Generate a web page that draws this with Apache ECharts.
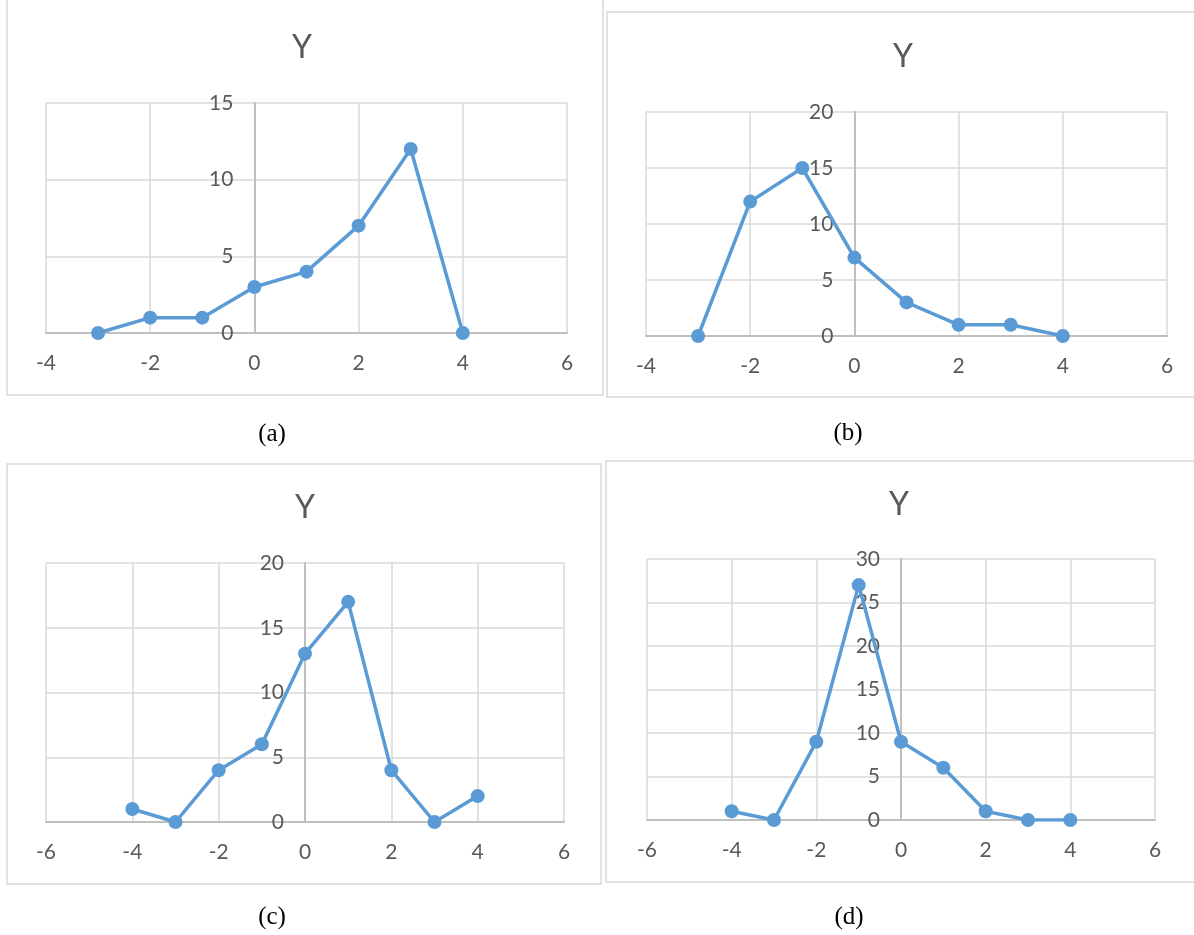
<!DOCTYPE html>
<html>
<head>
<meta charset="utf-8">
<script src="https://cdn.jsdelivr.net/npm/echarts@6/dist/echarts.min.js"></script>
<style>
html,body{margin:0;padding:0;background:#fff;}
#chart{width:1194px;height:935px;}
</style>
</head>
<body>
<div id="chart"></div>
<script>
// ---- data ----
const xA = [-3, -2, -1, 0, 1, 2, 3, 4];
const yA = [0, 1, 1, 3, 4, 7, 12, 0];
const xB = [-3, -2, -1, 0, 1, 2, 3, 4];
const yB = [0, 12, 15, 7, 3, 1, 1, 0];
const xC = [-4, -3, -2, -1, 0, 1, 2, 3, 4];
const yC = [1, 0, 4, 6, 13, 17, 4, 0, 2];
const xD = [-4, -3, -2, -1, 0, 1, 2, 3, 4];
const yD = [1, 0, 9, 27, 9, 6, 1, 0, 0];
const panelTitles = ['Y', 'Y', 'Y', 'Y'];
const captions = ['(a)', '(b)', '(c)', '(d)'];
const xRanges = [[-4, 6], [-4, 6], [-6, 6], [-6, 6]];
const yRanges = [[0, 15], [0, 20], [0, 20], [0, 30]];

// ---- layout ----
const grids = [
  {left: 46, top: 103, width: 521, height: 230},
  {left: 646, top: 112, width: 521, height: 224},
  {left: 46, top: 563, width: 518, height: 259},
  {left: 647, top: 559, width: 508, height: 261}
];
const boxes = [
  {x: 7, y: -5, w: 596, h: 400},
  {x: 607, y: 12, w: 600, h: 385},
  {x: 7, y: 464, w: 594, h: 420},
  {x: 606, y: 461, w: 600, h: 421}
];
const titlePos = [[302, 48], [903, 57], [305, 508], [899, 505]];
const capPos = [[272, 434], [848, 433], [272, 917], [849, 917]];

const seriesData = [
  xA.map((x, i) => [x, yA[i]]),
  xB.map((x, i) => [x, yB[i]]),
  xC.map((x, i) => [x, yC[i]]),
  xD.map((x, i) => [x, yD[i]])
];

const labelColor = '#595959';
const font = 'Lato, "Open Sans", sans-serif';

const option = {
  animation: false,
  backgroundColor: '#ffffff',
  grid: grids.map(g => Object.assign({containLabel: false}, g)),
  xAxis: grids.map((g, i) => ({
    type: 'value', gridIndex: i,
    min: xRanges[i][0], max: xRanges[i][1], interval: 2,
    axisLine: {show: true, onZero: true, lineStyle: {color: '#bfbfbf', width: 2}},
    axisTick: {show: false},
    axisLabel: {color: labelColor, fontSize: 21, fontFamily: font, margin: 20, showMinLabel: true, showMaxLabel: true},
    splitLine: {show: true, showMinLine: true, showMaxLine: true, lineStyle: {color: '#d9d9d9', width: 1.5}}
  })),
  yAxis: grids.map((g, i) => ({
    type: 'value', gridIndex: i, position: 'left',
    // place the vertical axis where x = 0 crosses the plot
    offset: -g.width * (0 - xRanges[i][0]) / (xRanges[i][1] - xRanges[i][0]),
    min: yRanges[i][0], max: yRanges[i][1], interval: 5,
    axisLine: {show: true, onZero: false, lineStyle: {color: '#bfbfbf', width: 2}},
    axisTick: {show: false},
    axisLabel: {color: labelColor, fontSize: 21, fontFamily: font, margin: 21, showMinLabel: true, showMaxLabel: true},
    splitLine: {show: true, showMinLine: true, showMaxLine: true, lineStyle: {color: '#d9d9d9', width: 1.5}}
  })),
  series: seriesData.map((d, i) => ({
    type: 'line', xAxisIndex: i, yAxisIndex: i,
    data: d,
    symbol: 'circle', symbolSize: 14,
    lineStyle: {color: '#5b9bd5', width: 3.5},
    itemStyle: {color: '#5b9bd5'},
    z: 5
  })),
  graphic: [].concat(
    boxes.map(b => ({
      type: 'rect', z: -10, silent: true,
      shape: {x: b.x, y: b.y, width: b.w, height: b.h},
      style: {fill: 'none', stroke: '#d9d9d9', lineWidth: 1.5}
    })),
    titlePos.map((p, i) => ({
      type: 'text', x: p[0], y: p[1], silent: true,
      style: {text: panelTitles[i], font: '32px ' + font, fill: labelColor, textAlign: 'center', textVerticalAlign: 'middle'}
    })),
    capPos.map((p, i) => ({
      type: 'text', x: p[0], y: p[1], silent: true,
      style: {text: captions[i], font: '25px "Liberation Serif", "Times New Roman", serif', fill: '#000000', textAlign: 'center', textVerticalAlign: 'middle'}
    }))
  )
};

const chart = echarts.init(document.getElementById('chart'), null, {renderer: 'canvas'});
chart.setOption(option);
</script>
</body>
</html>
